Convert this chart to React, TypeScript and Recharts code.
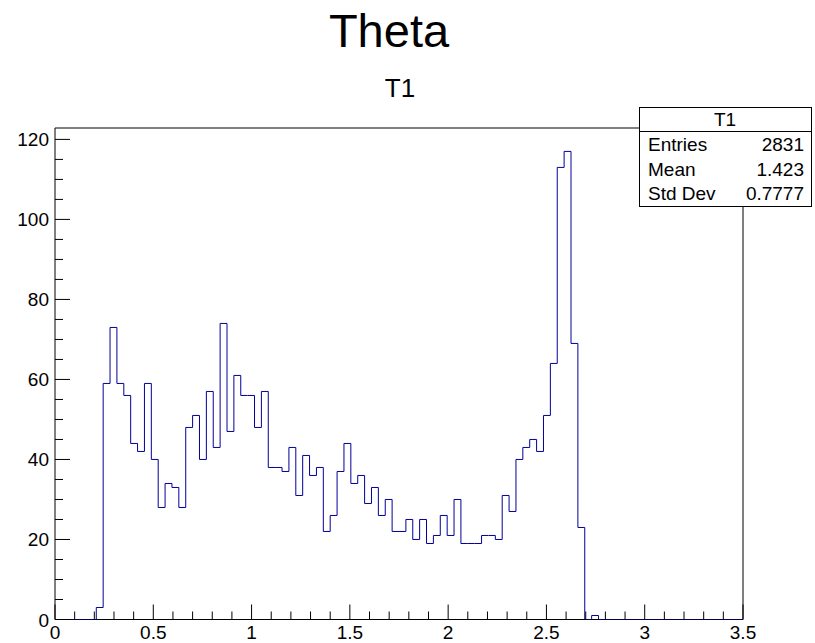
import React from "react";
import { ComposedChart, Line, XAxis, YAxis, ReferenceArea } from "recharts";

// Histogram "T1": 100 bins on [0, 3.5]
const BIN_MIN = 0;
const BIN_MAX = 3.5;
const BIN_COUNT = 100;

// Bin contents, bin 0 .. bin 99
const binCounts: number[] = [
  0, 0, 0, 0, 0, 0, 3, 59, 73, 59,
  56, 44, 42, 59, 40, 28, 34, 33, 28, 48,
  51, 40, 57, 43, 74, 47, 61, 56, 56, 48,
  57, 38, 38, 37, 43, 31, 41, 36, 38, 22,
  26, 37, 44, 34, 36, 29, 33, 26, 30, 22,
  22, 25, 20, 25, 19, 21, 26, 21, 30, 19,
  19, 19, 21, 21, 20, 31, 27, 40, 43, 45,
  42, 51, 64, 113, 117, 69, 23, 0, 1, 0,
  0, 0, 0, 0, 0, 0, 0, 0, 0, 0,
  0, 0, 0, 0, 0, 0, 0, 0, 0, 0,
];

// Axis labels
const xMajorTicks: number[] = [0, 0.5, 1, 1.5, 2, 2.5, 3, 3.5];
const xMinorStep = 0.1;
const yMajorTicks: number[] = [0, 20, 40, 60, 80, 100, 120];
const yMinorStep = 5;
const Y_MAX = 122.85;

// Statistics box
const statsTitle = "T1";
const statsRows: [string, string][] = [
  ["Entries", "2831"],
  ["Mean", "1.423"],
  ["Std Dev", "0.7777"],
];

const FONT = "'Liberation Sans', Arial, Helvetica, sans-serif";
const LINE_BLUE = "#000099";

const binWidth = (BIN_MAX - BIN_MIN) / BIN_COUNT;
const histData = [
  ...binCounts.map((c, i) => ({ x: +(BIN_MIN + i * binWidth).toFixed(4), y: c })),
  { x: BIN_MAX, y: 0 },
];

const xTicks: number[] = [];
for (let v = 0; v <= BIN_MAX + 1e-9; v += xMinorStep) xTicks.push(+v.toFixed(2));
const yTicks: number[] = [];
for (let v = 0; v <= 120; v += yMinorStep) yTicks.push(v);

const isMajor = (v: number, list: number[]) => list.some((m) => Math.abs(m - v) < 1e-6);

// Plot frame edges in pixels (set through the chart margins and axis sizes)
const PLOT_LEFT = 55;
const PLOT_BOTTOM = 619.5;

const renderXTick = (props: any) => {
  const { x, payload } = props;
  const y = PLOT_BOTTOM;
  const major = isMajor(payload.value, xMajorTicks);
  return (
    <g key={`xt-${payload.value}`}>
      <line x1={x} y1={y} x2={x} y2={y - (major ? 15 : 8)} stroke="#000" strokeWidth={1} />
      {major && (
        <text x={x} y={y + 19} textAnchor="middle" fontSize={19} fontFamily={FONT} fill="#000">
          {payload.value}
        </text>
      )}
    </g>
  );
};

const renderYTick = (props: any) => {
  const { y, payload } = props;
  const x = PLOT_LEFT;
  const major = isMajor(payload.value, yMajorTicks);
  return (
    <g key={`yt-${payload.value}`}>
      <line x1={x} y1={y} x2={x + (major ? 15 : 8)} y2={y} stroke="#000" strokeWidth={1} />
      {major && (
        <text x={x - 6} y={y + 7} textAnchor="end" fontSize={19} fontFamily={FONT} fill="#000">
          {payload.value}
        </text>
      )}
    </g>
  );
};

export default function App() {
  const boxL = 639;
  const boxR = 811;
  const boxT = 107;
  const boxB = 206;
  const sep = 131;
  return (
    <div style={{ position: "absolute", left: 0, top: 0, width: 815, height: 643, background: "#fff", overflow: "hidden" }}>
      <ComposedChart
        width={815}
        height={643}
        data={histData}
        margin={{ top: 128, right: 72, bottom: 0, left: 0 }}
      >
        <XAxis
          dataKey="x"
          type="number"
          domain={[BIN_MIN, BIN_MAX]}
          ticks={xTicks}
          interval={0}
          height={23.5}
          tickLine={false}
          tick={renderXTick}
          axisLine={false}
          allowDataOverflow
        />
        <YAxis
          type="number"
          domain={[0, Y_MAX]}
          ticks={yTicks}
          interval={0}
          width={55}
          tickLine={false}
          tick={renderYTick}
          axisLine={false}
          allowDataOverflow
        />
        <Line
          dataKey="y"
          type="stepAfter"
          stroke={LINE_BLUE}
          strokeWidth={1}
          dot={false}
          activeDot={false}
          isAnimationActive={false}
        />
        <ReferenceArea
          x1={BIN_MIN}
          x2={BIN_MAX}
          y1={0}
          y2={Y_MAX}
          fill="none"
          fillOpacity={0}
          stroke="#000"
          strokeWidth={1}
          ifOverflow="visible"
        />
      </ComposedChart>
      <svg
        width={815}
        height={643}
        style={{ position: "absolute", left: 0, top: 0, pointerEvents: "none" }}
      >
        <text x={389} y={47} textAnchor="middle" fontSize={47} fontFamily={FONT} fill="#000">
          Theta
        </text>
        <text x={400} y={97} textAnchor="middle" fontSize={26} fontFamily={FONT} fill="#000">
          T1
        </text>
        <rect x={boxL + 0.5} y={boxT + 0.5} width={boxR - boxL} height={boxB - boxT} fill="#fff" stroke="#000" strokeWidth={1} />
        <line x1={boxL} y1={sep + 0.5} x2={boxR} y2={sep + 0.5} stroke="#000" strokeWidth={1} />
        <text x={(boxL + boxR) / 2} y={126} textAnchor="middle" fontSize={19} fontFamily={FONT} fill="#000">
          {statsTitle}
        </text>
        {statsRows.map(([k, v], i) => (
          <g key={k}>
            <text x={648} y={151 + i * 24.5} fontSize={19} fontFamily={FONT} fill="#000">
              {k}
            </text>
            <text x={804} y={151 + i * 24.5} textAnchor="end" fontSize={19} fontFamily={FONT} fill="#000">
              {v}
            </text>
          </g>
        ))}
      </svg>
    </div>
  );
}
